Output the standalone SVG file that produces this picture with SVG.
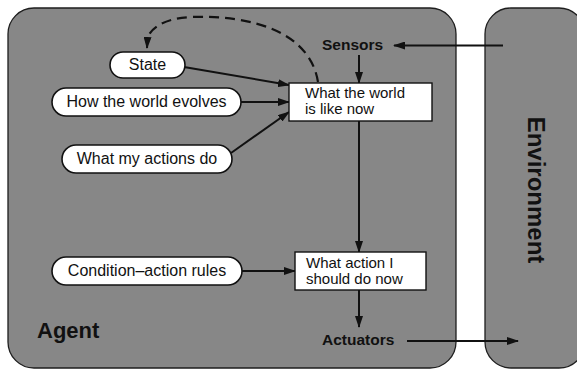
<svg xmlns="http://www.w3.org/2000/svg" width="577" height="369" viewBox="0 0 577 369">
  <style>
    .panel { fill: #878787; stroke: #1e1e1e; stroke-width: 1.3; }
    .pill { fill: #ffffff; stroke: #111111; stroke-width: 1.6; }
    .box { fill: #ffffff; stroke: #111111; stroke-width: 1.4; }
    .lbl { font-family: "Liberation Sans", Arial, sans-serif; font-size: 16px; fill: #111111; }
    .boxtxt { font-family: "Liberation Sans", Arial, sans-serif; font-size: 15px; fill: #111111; }
    .bold { font-family: "Liberation Sans", Arial, sans-serif; font-weight: bold; fill: #111111; }
    .wire { fill: none; stroke: #111111; stroke-width: 2; }
    .dash { fill: none; stroke: #111111; stroke-width: 2.2; stroke-dasharray: 10 6; }
  </style>
  <defs>
    <marker id="head" viewBox="0 0 12 8" refX="11" refY="4" markerWidth="12" markerHeight="8" markerUnits="userSpaceOnUse" orient="auto">
      <path d="M0,0 L12,4 L0,8 Z" fill="#111111"/>
    </marker>
  </defs>

  <rect width="577" height="369" fill="#ffffff"/>

  <!-- Agent and environment panels -->
  <g id="agent">
    <rect class="panel" x="8" y="8" width="448" height="360" rx="26" ry="26"/>
    <text class="bold" x="37" y="338" font-size="22">Agent</text>
  </g>
  <g id="environment">
    <rect class="panel" x="485" y="8" width="100" height="360" rx="26" ry="26"/>
    <text class="bold" font-size="24" text-anchor="middle" transform="translate(528,190) rotate(90)">Environment</text>
  </g>

  <!-- Connectors -->
  <g id="connectors">
    <path class="wire" d="M503,45.5 L394,45.5" marker-end="url(#head)"/>
    <path class="wire" d="M359,55 L359,83" marker-end="url(#head)"/>
    <path class="wire" d="M184,67 L289,85" marker-end="url(#head)"/>
    <path class="wire" d="M241,102 L289,102" marker-end="url(#head)"/>
    <path class="wire" d="M231,153 L289,112" marker-end="url(#head)"/>
    <path class="wire" d="M359,121 L359,252" marker-end="url(#head)"/>
    <path class="wire" d="M242,271 L295,271" marker-end="url(#head)"/>
    <path class="wire" d="M359,290 L359,327" marker-end="url(#head)"/>
    <path class="wire" d="M407,341 L518,341" marker-end="url(#head)"/>
    <path class="dash" d="M318,82 C310,32 252,15 192,17 C162,18 150,30 147.5,38"/>
    <path class="wire" d="M147.5,38 L147,48" marker-end="url(#head)"/>
  </g>

  <!-- Nodes -->
  <g id="sensors">
    <text class="bold" x="322" y="50" font-size="15.5">Sensors</text>
  </g>
  <g id="actuators">
    <text class="bold" x="322" y="345" font-size="15.5">Actuators</text>
  </g>
  <g id="state">
    <rect class="pill" x="110" y="52" width="75" height="26" rx="13" ry="13"/>
    <text class="lbl" x="147.5" y="70" text-anchor="middle">State</text>
  </g>
  <g id="world-evolves">
    <rect class="pill" x="52" y="88" width="189" height="28" rx="14" ry="14"/>
    <text class="lbl" x="146.5" y="107" text-anchor="middle">How the world evolves</text>
  </g>
  <g id="actions-do">
    <rect class="pill" x="62" y="145" width="170" height="28" rx="14" ry="14"/>
    <text class="lbl" x="147" y="164" text-anchor="middle">What my actions do</text>
  </g>
  <g id="rules">
    <rect class="pill" x="52" y="257" width="190" height="28" rx="14" ry="14"/>
    <text class="lbl" x="147" y="276" text-anchor="middle">Condition–action rules</text>
  </g>
  <g id="world-now">
    <rect class="box" x="289" y="83" width="143" height="38"/>
    <text class="boxtxt" x="305" y="98">What the world</text>
    <text class="boxtxt" x="305" y="114">is like now</text>
  </g>
  <g id="action-now">
    <rect class="box" x="295" y="252" width="131" height="38"/>
    <text class="boxtxt" x="306" y="268">What action I</text>
    <text class="boxtxt" x="306" y="284">should do now</text>
  </g>
</svg>
